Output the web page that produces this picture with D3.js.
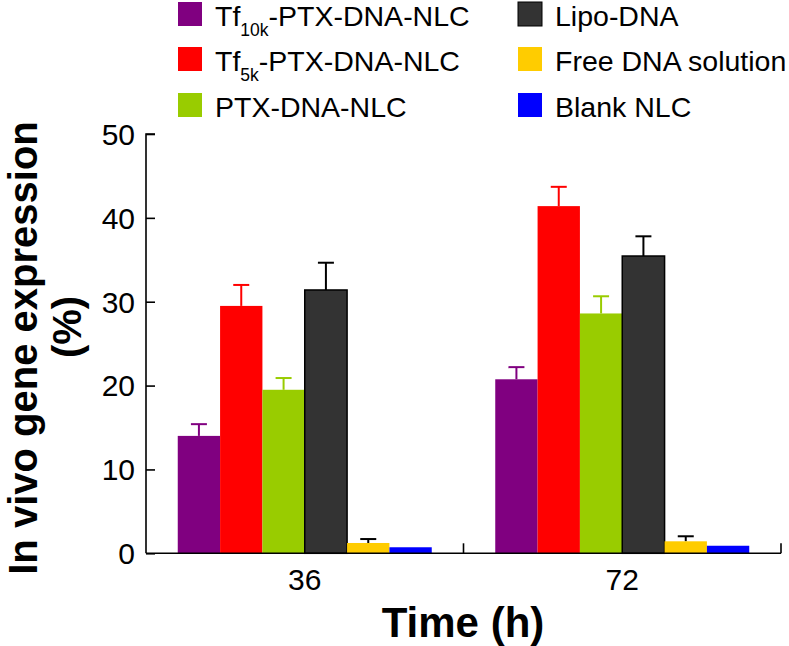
<!DOCTYPE html>
<html>
<head>
<meta charset="utf-8">
<script src="https://cdn.jsdelivr.net/npm/d3@7"></script>
<style>
  html, body { margin: 0; padding: 0; background: #fff; }
  text { font-family: "Liberation Sans", Arial, Helvetica, sans-serif; }
</style>
</head>
<body>
<svg id="chart" width="789" height="646"></svg>
<script>
// ---- data ----
const times = ["36", "72"];
const seriesNames = ["Tf10k-PTX-DNA-NLC", "Tf5k-PTX-DNA-NLC", "PTX-DNA-NLC", "Lipo-DNA", "Free DNA solution", "Blank NLC"];
const seriesColors = ["#800080", "#ff0000", "#99cc00", "#333333", "#ffcc00", "#0000ff"];
const errorColors = ["#800080", "#ff0000", "#99cc00", "#000000", "#000000", "#000000"];
const values36 = [14.0, 29.5, 19.5, 31.4, 1.23, 0.72];
const values72 = [20.75, 41.4, 28.6, 35.45, 1.43, 0.9];
const errors36 = [1.4, 2.5, 1.4, 3.25, 0.47, 0];
const errors72 = [1.45, 2.3, 2.05, 2.35, 0.6, 0];
const yTicks = [0, 10, 20, 30, 40, 50];

const svg = d3.select("#chart");
const x0 = 146, x1 = 781, yBottom = 553.3, yTop = 134;

const y = d3.scaleLinear().domain([0, 50]).range([yBottom, yTop]);
const xGroup = d3.scaleBand().domain(times).range([x0, x1]).paddingInner(0).paddingOuter(0);
const xSeries = d3.scaleBand().domain(d3.range(seriesNames.length))
  .range([0, xGroup.bandwidth()]).paddingInner(0).paddingOuter(0.75);

const valuesByTime = { "36": values36, "72": values72 };
const errorsByTime = { "36": errors36, "72": errors72 };

// bars
times.forEach(t => {
  const g = svg.append("g").attr("transform", `translate(${xGroup(t)},0)`);
  const data = valuesByTime[t].map((v, i) => ({ v, e: errorsByTime[t][i], i }));
  data.filter(d => d.e > 0).forEach(d => {
    const cx = xSeries(d.i) + xSeries.bandwidth() / 2;
    g.append("line").attr("x1", cx).attr("x2", cx)
      .attr("y1", y(d.v)).attr("y2", y(d.v + d.e))
      .attr("stroke", errorColors[d.i]).attr("stroke-width", 2);
    g.append("line").attr("x1", cx - 8).attr("x2", cx + 8)
      .attr("y1", y(d.v + d.e)).attr("y2", y(d.v + d.e))
      .attr("stroke", errorColors[d.i]).attr("stroke-width", 2);
  });
  g.selectAll("rect").data(data).join("rect")
    .attr("x", d => xSeries(d.i))
    .attr("width", xSeries.bandwidth())
    .attr("y", d => y(d.v))
    .attr("height", d => yBottom - y(d.v))
    .attr("fill", d => seriesColors[d.i])
    .attr("stroke", d => d.i === 3 ? "#000" : "none")
    .attr("stroke-width", 1.5);
});

// y axis
const yAxis = d3.axisRight(y).tickValues(yTicks).tickSize(9).tickFormat("");
const yg = svg.append("g").attr("transform", `translate(${x0},0)`).call(yAxis);
yg.select(".domain").attr("d", `M9,${yTop}H0V${yBottom}`).attr("stroke", "#000").attr("stroke-width", 1.6);
yg.selectAll(".tick line").attr("stroke", "#000").attr("stroke-width", 1.6);
svg.append("g").selectAll("text").data(yTicks).join("text")
  .attr("x", 135).attr("y", d => y(d)).attr("dy", "0.36em")
  .attr("text-anchor", "end").attr("font-size", 30).attr("fill", "#000")
  .text(d => d);

// x axis
const xg = svg.append("g");
xg.append("line").attr("x1", x0).attr("x2", x1).attr("y1", yBottom).attr("y2", yBottom)
  .attr("stroke", "#000").attr("stroke-width", 1.6);
const boundaries = [xGroup(times[1]), x1];
xg.selectAll("line.b").data(boundaries).join("line").attr("class", "b")
  .attr("x1", d => d).attr("x2", d => d).attr("y1", yBottom).attr("y2", yBottom - 10)
  .attr("stroke", "#000").attr("stroke-width", 1.6);
xg.selectAll("text").data(times).join("text")
  .attr("x", d => xGroup(d) + xGroup.bandwidth() / 2)
  .attr("y", 590).attr("text-anchor", "middle").attr("font-size", 30).attr("fill", "#000")
  .text(d => d);

// axis titles
svg.append("text").attr("x", 463).attr("y", 637).attr("text-anchor", "middle")
  .attr("font-size", 42).attr("font-weight", "bold").text("Time (h)");
svg.append("text").attr("transform", "translate(37,348) rotate(-90)")
  .attr("text-anchor", "middle").attr("font-size", 40).attr("font-weight", "bold")
  .text("In vivo gene expression");
svg.append("text").attr("transform", "translate(81,327) rotate(-90)")
  .attr("text-anchor", "middle").attr("font-size", 40).attr("font-weight", "bold")
  .text("(%)");

// legend
const legendLabels = [
  [{ t: "Tf" }, { t: "10k", sub: true }, { t: "-PTX-DNA-NLC" }],
  [{ t: "Tf" }, { t: "5k", sub: true }, { t: "-PTX-DNA-NLC" }],
  [{ t: "PTX-DNA-NLC" }],
  [{ t: "Lipo-DNA" }],
  [{ t: "Free DNA solution" }],
  [{ t: "Blank NLC" }]
];
const legCols = [178, 518];
const legRows = [2, 47, 93];
legendLabels.forEach((parts, i) => {
  const col = Math.floor(i / 3), row = i % 3;
  const lx = legCols[col], ly = legRows[row];
  svg.append("rect").attr("x", lx).attr("y", ly).attr("width", 24).attr("height", 24)
    .attr("fill", seriesColors[i]).attr("stroke", i === 3 ? "#000" : "none").attr("stroke-width", 1);
  const txt = svg.append("text").attr("x", lx + 37).attr("y", ly + 24).attr("font-size", 28.5).attr("fill", "#000");
  let shifted = false;
  parts.forEach(p => {
    const ts = txt.append("tspan").text(p.t);
    if (p.sub) { ts.attr("font-size", 17.5).attr("dy", 10); shifted = true; }
    else if (shifted) { ts.attr("dy", -10); shifted = false; }
  });
});
</script>
</body>
</html>
